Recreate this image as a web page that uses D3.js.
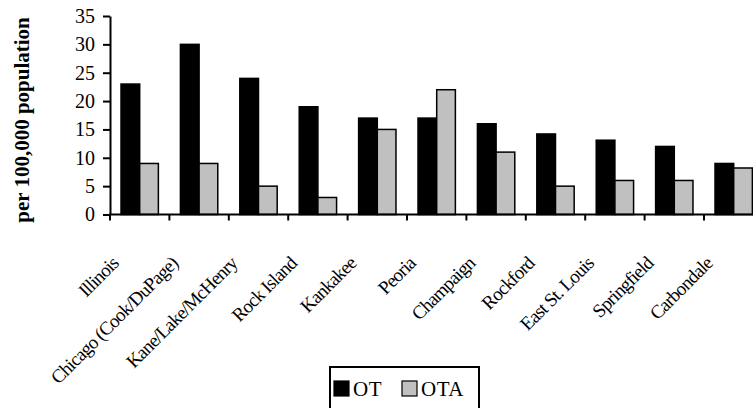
<!DOCTYPE html>
<html lang="en">
<head>
    <meta charset="UTF-8">
    <title>OT / OTA per 100,000</title>
    <style>
        body { margin: 0; background: #fff; }
        svg text { font-family: "Liberation Serif", "Times New Roman", serif !important; fill: #000; }
    </style>
</head>
<body>
    <svg width="753" height="408" id="svg"></svg>
    <script src="https://d3js.org/d3.v7.min.js"></script>
    <script>
        const categories = ["Illinois", "Chicago (Cook/DuPage)", "Kane/Lake/McHenry", "Rock Island", "Kankakee",
            "Peoria", "Champaign", "Rockford", "East St. Louis", "Springfield", "Carbondale"]
        const series = ["OT", "OTA"]
        const otValues = [23, 30, 24, 19, 17, 17, 16, 14.2, 13.1, 12, 9]
        const otaValues = [9, 9, 5, 3, 15, 22, 11, 5, 6, 6, 8.2]
        const yTicks = [0, 5, 10, 15, 20, 25, 30, 35]
        const colors = { OT: "#000000", OTA: "#c0c0c0" }

        const data = categories.map((c, i) => ({ name: c, OT: otValues[i], OTA: otaValues[i] }))

        const svg = d3.select("svg#svg")
        const left = 110
        const step = 59.4
        const baseY = 214.5
        const serif = "Liberation Serif"

        // chart runs past the right edge, like the original crop
        const x0 = d3.scaleBand().domain(categories).range([left, left + step * categories.length]).padding(0)
        const x1 = d3.scaleBand().domain(series).range([0, x0.bandwidth()]).paddingInner(0).paddingOuter(0.59)
        const y = d3.scaleLinear().domain([0, 35]).range([baseY, 16])

        // bars
        const groups = svg.append("g").selectAll("g").data(data).join("g")
            .attr("transform", d => `translate(${x0(d.name)},0)`)
        groups.selectAll("rect").data(d => series.map(s => ({ key: s, value: d[s] }))).join("rect")
            .attr("x", d => x1(d.key))
            .attr("y", d => y(d.value))
            .attr("width", x1.bandwidth())
            .attr("height", d => y(0) - y(d.value))
            .attr("fill", d => colors[d.key])
            .attr("stroke", "#000")
            .attr("stroke-width", 1.5)

        // y axis
        const yAxis = d3.axisLeft(y).tickValues(yTicks).tickSize(7).tickSizeOuter(0).tickPadding(8)
        const gy = svg.append("g").attr("transform", `translate(${left},0)`).call(yAxis)
            .attr("font-family", serif).attr("font-size", 20)
        gy.selectAll("path, line").attr("stroke", "#000").attr("stroke-width", 2)
        gy.selectAll("text").style("font-family", serif).style("font-size", "20px")

        // x axis line and ticks at band boundaries
        const gx = svg.append("g")
        gx.append("line").attr("x1", left - 1).attr("x2", 753).attr("y1", y(0)).attr("y2", y(0))
            .attr("stroke", "#000").attr("stroke-width", 2)
        gx.selectAll("line.tick").data(categories).join("line").attr("class", "tick")
            .attr("x1", d => x0(d)).attr("x2", d => x0(d))
            .attr("y1", y(0)).attr("y2", y(0) + 6)
            .attr("stroke", "#000").attr("stroke-width", 2)

        // rotated category labels
        gx.selectAll("text").data(categories).join("text")
            .attr("transform", d => `translate(${x0(d) + x0.bandwidth() / 2 - 20},${y(0) + 50}) rotate(-45)`)
            .attr("text-anchor", "end")
            .style("font-family", serif)
            .style("font-size", "19px")
            .style("letter-spacing", "-0.8px")
            .text(d => d)

        // y title
        svg.append("text")
            .attr("transform", `translate(29,120) rotate(-90)`)
            .attr("text-anchor", "middle")
            .style("font-family", serif)
            .style("font-size", "21px")
            .style("font-weight", "bold")
            .text("per 100,000 population")

        // legend
        const lg = svg.append("g").attr("transform", "translate(330,367)")
        lg.append("rect").attr("x", 0).attr("y", 0).attr("width", 149).attr("height", 60)
            .attr("fill", "#fff").attr("stroke", "#000").attr("stroke-width", 2)
        const legendX = d3.scaleOrdinal().domain(series).range([4, 72])
        const items = lg.selectAll("g.item").data(series).join("g").attr("class", "item")
            .attr("transform", d => `translate(${legendX(d)},14)`)
        items.append("rect").attr("width", 15).attr("height", 15)
            .attr("fill", d => colors[d]).attr("stroke", "#000").attr("stroke-width", 1.2)
        items.append("text").attr("x", 19).attr("y", 15)
            .style("font-family", serif)
            .style("font-size", "21px")
            .style("letter-spacing", "0.5px")
            .text(d => d)
    </script>
</body>
</html>
